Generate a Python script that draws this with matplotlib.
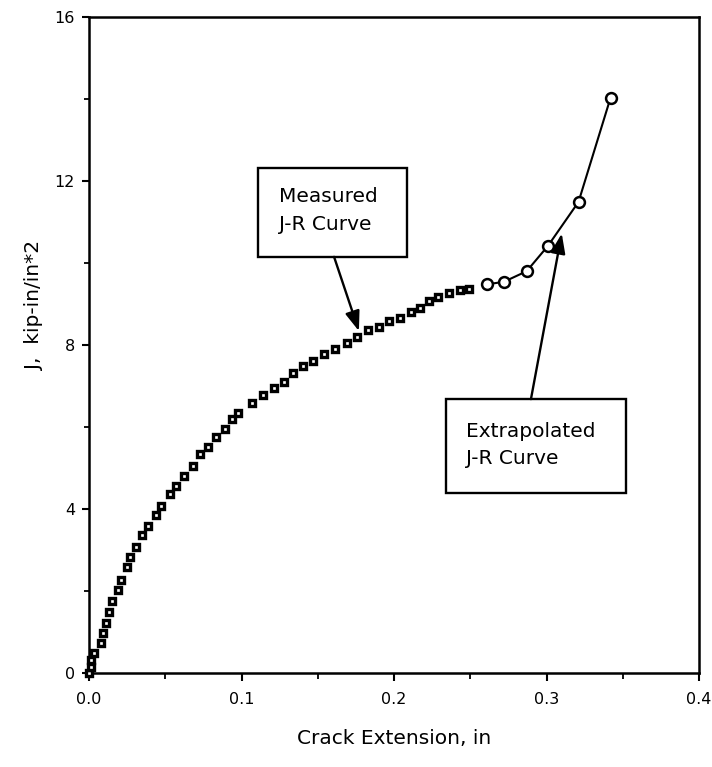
import matplotlib
matplotlib.use("agg")
import matplotlib.pyplot as plt
from matplotlib.patches import Rectangle
from matplotlib.ticker import MultipleLocator

plt.rcParams['font.family'] = ['DejaVu Sans']

# measured J-R curve (squares)
meas_x = [0.000, 0.001, 0.0015, 0.003, 0.008, 0.009, 0.011, 0.013, 0.015, 0.019,
          0.021, 0.025, 0.027, 0.031, 0.035, 0.039, 0.044, 0.047, 0.053, 0.057,
          0.062, 0.068, 0.073, 0.078, 0.083, 0.089, 0.094, 0.098, 0.107, 0.114,
          0.121, 0.128, 0.134, 0.140, 0.147, 0.154, 0.161, 0.169, 0.176, 0.183,
          0.190, 0.197, 0.204, 0.211, 0.217, 0.223, 0.229, 0.236, 0.243, 0.249]
meas_y = [0.00, 0.15, 0.32, 0.50, 0.73, 0.98, 1.23, 1.49, 1.75, 2.03,
          2.28, 2.58, 2.83, 3.08, 3.37, 3.58, 3.86, 4.07, 4.36, 4.57,
          4.80, 5.06, 5.34, 5.51, 5.75, 5.96, 6.20, 6.33, 6.58, 6.78,
          6.95, 7.10, 7.31, 7.48, 7.61, 7.78, 7.90, 8.06, 8.19, 8.36,
          8.44, 8.58, 8.67, 8.81, 8.91, 9.08, 9.17, 9.28, 9.34, 9.37]

# extrapolated J-R curve (circles)
extr_x = [0.261, 0.272, 0.287, 0.301, 0.321, 0.342]
extr_y = [9.48, 9.54, 9.80, 10.42, 11.49, 14.03]

x_ticks = [0.0, 0.1, 0.2, 0.3, 0.4]
x_tick_labels = ["0.0", "0.1", "0.2", "0.3", "0.4"]
y_ticks = [0, 4, 8, 12, 16]

fig = plt.figure(figsize=(7.12, 7.67), dpi=100)
ax = fig.add_axes([89 / 712, 1 - 673 / 767, 610 / 712, 656 / 767])

ax.plot(extr_x, extr_y, color='k', lw=1.5, marker='o', ms=7.8, mfc='white',
        mec='k', mew=1.8, zorder=3)
ax.plot(meas_x, meas_y, ls='none', marker='s', ms=4.6, mfc='white', mec='k',
        mew=2.4, zorder=4, clip_on=False)

ax.set_xlim(0, 0.4)
ax.set_ylim(0, 16)
ax.set_xticks(x_ticks)
ax.set_xticklabels(x_tick_labels)
ax.set_yticks(y_ticks)
ax.xaxis.set_minor_locator(MultipleLocator(0.05))
ax.yaxis.set_minor_locator(MultipleLocator(2))
ax.tick_params(axis='x', which='major', direction='out', length=6, width=1.5,
               labelsize=11.5, pad=8)
ax.tick_params(axis='x', which='minor', direction='out', length=4, width=1.3)
ax.tick_params(axis='y', which='major', direction='out', length=5, width=1.5,
               labelsize=11.5, pad=5)
ax.tick_params(axis='y', which='minor', direction='out', length=3.5, width=1.3)
for s in ax.spines.values():
    s.set_linewidth(1.8)

ax.set_xlabel("Crack Extension, in", fontsize=14.5)
ax.xaxis.set_label_coords(0.5, -0.085)
ax.set_ylabel("J,  kip-in/in*2", fontsize=14.5)
ax.yaxis.set_label_coords(-0.074, 0.56)

# annotation boxes
ax.add_patch(Rectangle((0.1108, 10.15), 0.0977, 2.17, fill=False, lw=1.7,
                       ec='k', zorder=5))
ax.text(0.1246, 11.61, "Measured", fontsize=14.5, va='center', ha='left')
ax.text(0.1246, 10.93, "J-R Curve", fontsize=14.5, va='center', ha='left')
ax.annotate("", xy=(0.177, 8.34), xytext=(0.1607, 10.15),
            arrowprops=dict(arrowstyle='-|>,head_length=0.6,head_width=0.22',
                            mutation_scale=20, lw=1.7, color='k',
                            shrinkA=0, shrinkB=0), zorder=6)

ax.add_patch(Rectangle((0.2341, 4.39), 0.118, 2.29, fill=False, lw=1.7,
                       ec='k', zorder=5))
ax.text(0.2472, 5.90, "Extrapolated", fontsize=14.5, va='center', ha='left')
ax.text(0.2472, 5.24, "J-R Curve", fontsize=14.5, va='center', ha='left')
ax.annotate("", xy=(0.310, 10.72), xytext=(0.2898, 6.68),
            arrowprops=dict(arrowstyle='-|>,head_length=0.6,head_width=0.22',
                            mutation_scale=20, lw=1.7, color='k',
                            shrinkA=0, shrinkB=0), zorder=6)

fig.savefig("out.png", dpi=100)
